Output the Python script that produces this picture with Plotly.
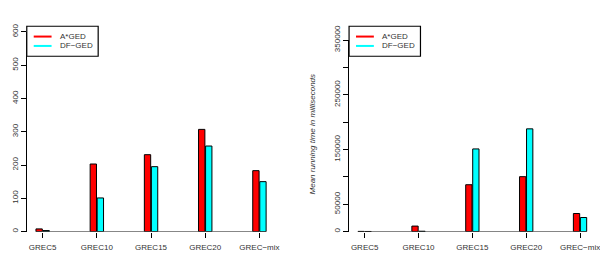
import plotly.graph_objects as go

categories = ["GREC5", "GREC10", "GREC15", "GREC20", "GREC\u2212mix"]
series_names = ["A*GED", "DF\u2212GED"]
left_astar = [8, 203, 231, 307, 183]
left_df = [3, 101, 195, 257, 150]
right_astar = [300, 10000, 85600, 100300, 33000]
right_df = [150, 600, 151000, 187700, 25700]
left_yticks = [0, 100, 200, 300, 400, 500, 600]
right_yticks = [0, 50000, 100000, 150000, 200000, 250000, 300000, 350000]
right_ylabels = ["0", "50000", "", "150000", "", "250000", "", "350000"]
colors = ["#FF0000", "#00FFFF"]

W, H = 600, 256
def px(x): return x / W
def py(y): return (H - y) / H

FONT = "Liberation Sans, Arial, sans-serif"
xs = list(range(len(categories)))
fig = go.Figure()

for vals, col, name in [(left_astar, colors[0], series_names[0]), (left_df, colors[1], series_names[1])]:
    fig.add_trace(go.Bar(x=xs, y=vals, marker=dict(color=col, line=dict(color="black", width=1)),
                         xaxis="x", yaxis="y", showlegend=False, name=name))
for vals, col, name in [(right_astar, colors[0], series_names[0]), (right_df, colors[1], series_names[1])]:
    fig.add_trace(go.Bar(x=xs, y=vals, marker=dict(color=col, line=dict(color="black", width=1)),
                         xaxis="x2", yaxis="y2", showlegend=False, name=name))

tickfont = dict(family=FONT, size=8, color="#333")

xcommon = dict(tickmode="array", tickvals=xs, ticktext=categories, ticks="outside", ticklen=5,
               tickcolor="black", showline=False, showgrid=False, zeroline=False, tickfont=tickfont,
               ticklabeloverflow="allow", ticklabelstandoff=3)
ycommon = dict(showline=True, linecolor="black", linewidth=1, ticks="outside", ticklen=5,
               tickcolor="black", showgrid=False, zeroline=False, tickangle=-90, tickfont=tickfont)

fig.update_layout(
    width=W, height=H, margin=dict(l=0, r=0, t=0, b=0),
    paper_bgcolor="white", plot_bgcolor="white", showlegend=False,
    barmode="group", bargap=0.74, bargroupgap=0.1,
    xaxis=dict(domain=[px(27), px(278)], range=[-0.293, 4.3], **xcommon),
    yaxis=dict(domain=[py(231), py(18)], range=[0, 600], tickvals=left_yticks, **ycommon),
    xaxis2=dict(domain=[px(352), 1.0], range=[-0.29, 4.278], anchor="y2", **xcommon),
    yaxis2=dict(domain=[py(231), py(26.7)], range=[0, 350000], anchor="x2",
                tickvals=right_yticks, ticktext=right_ylabels, **ycommon),
    font=dict(family=FONT),
)

# baseline lines under bars
for xr, yr in [("x", "y"), ("x2", "y2")]:
    fig.add_shape(type="line", xref=xr, yref=yr, x0=-0.13, x1=4.13, y0=0, y1=0,
                  line=dict(color="black", width=1))

# manual legends (R-style boxes with line swatches)
for lx in [27, 352]:
    fig.add_shape(type="rect", xref="paper", yref="paper", x0=px(lx), x1=px(lx + 72),
                  y0=py(44), y1=py(12), line=dict(color="black", width=1.2), fillcolor="white",
                  layer="above")
    for i, (col, name) in enumerate(zip(colors, series_names)):
        yy = 23 + i * 10
        fig.add_shape(type="line", xref="paper", yref="paper", x0=px(lx + 7), x1=px(lx + 25),
                      y0=py(yy), y1=py(yy), line=dict(color=col, width=2), layer="above")
        fig.add_annotation(text=name, xref="paper", yref="paper", x=px(lx + 31), y=py(yy),
                           xanchor="left", yanchor="middle", showarrow=False,
                           font=dict(family=FONT, size=8, color="#333"))

fig.add_annotation(text="<i>Mean running time in milliseconds</i>", xref="paper", yref="paper",
                   x=px(315), y=py(127), showarrow=False, textangle=-90,
                   font=dict(family=FONT, size=8, color="#333"))

fig.write_html("out.html")
